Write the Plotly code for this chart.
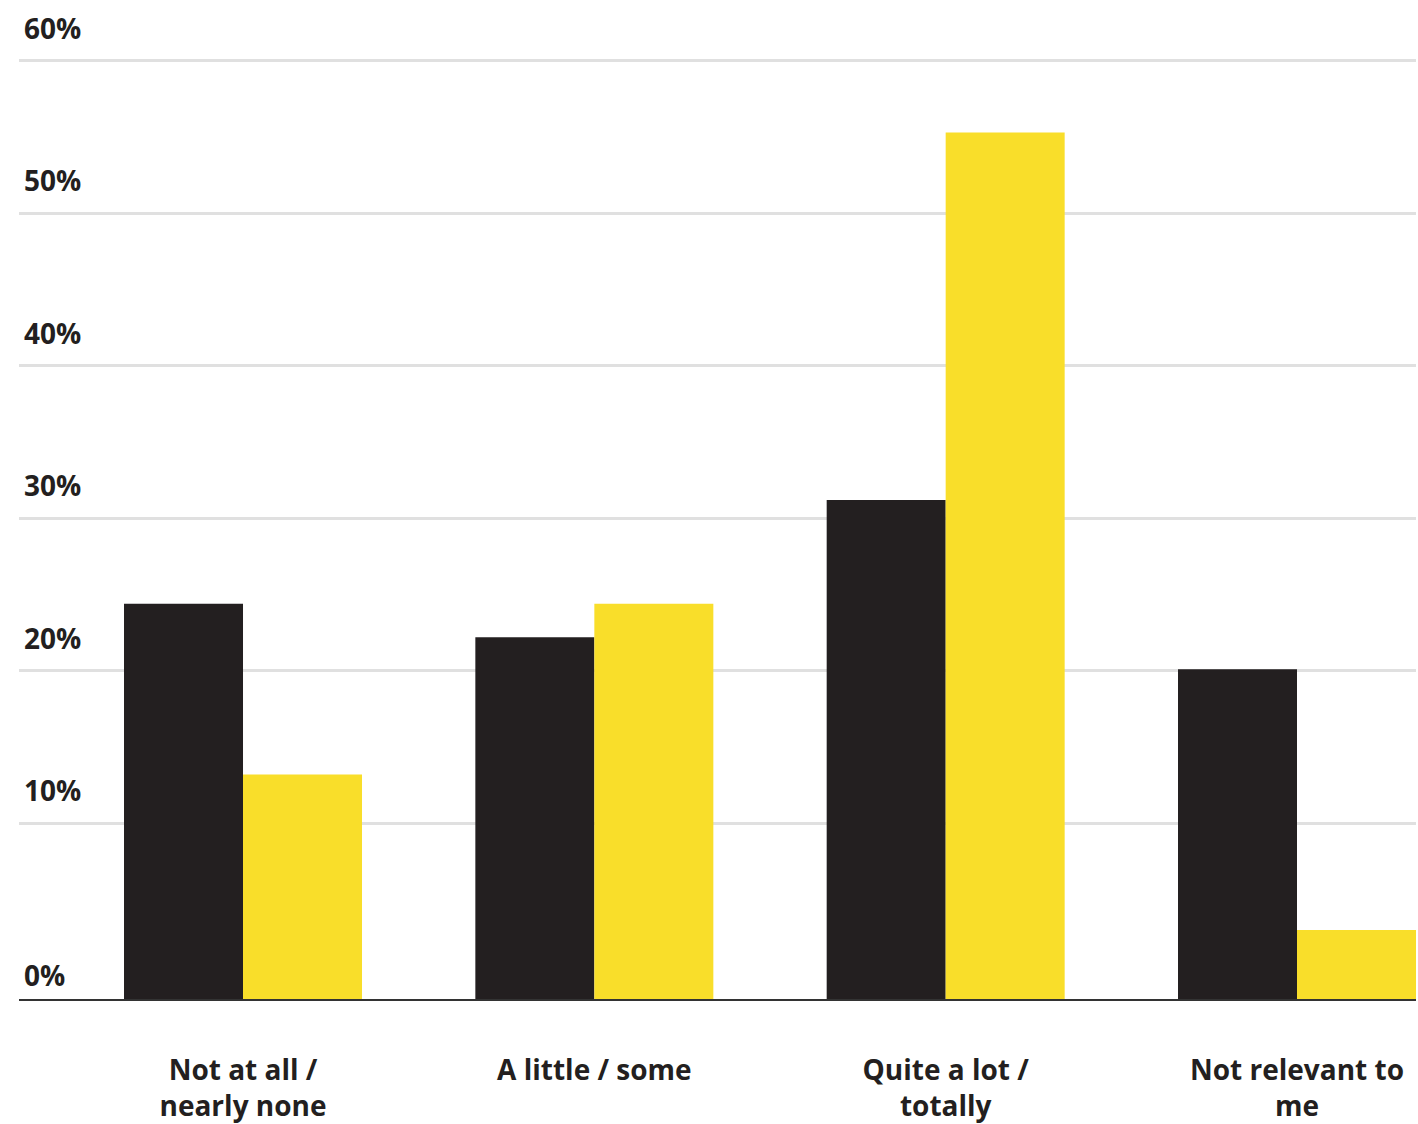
import plotly.graph_objects as go

# Response categories (two-line labels) and the two series, in percent
categories = ["Not at all /<br>nearly none", "A little / some", "Quite a lot /<br>totally", "Not relevant to<br>me"]
series_dark = [24.4, 22.2, 31.2, 20.1]
series_yellow = [13.2, 24.4, 55.3, 3.0]
tick_values = [0, 10, 20, 30, 40, 50, 60]
tick_labels = ["0%", "10%", "20%", "30%", "40%", "50%", "60%"]

DARK = "#231F20"
YELLOW = "#F9DE2A"
GRID = "#E0E0E0"
FONT = "Open Sans"

# Bars rise from the baseline drawn slightly below the zero value
Y_FLOOR = -1.52
Y_TOP = 63.99

fig = go.Figure()
fig.add_trace(go.Bar(
    x=categories, y=[v - Y_FLOOR for v in series_dark], base=Y_FLOOR,
    marker=dict(color=DARK, line=dict(width=0)), hoverinfo="skip", name="A",
))
fig.add_trace(go.Bar(
    x=categories, y=[v - Y_FLOOR for v in series_yellow], base=Y_FLOOR,
    marker=dict(color=YELLOW, line=dict(width=0)), hoverinfo="skip", name="B",
))

# Percentage labels sit just above their gridlines, at the left edge
for val, txt in zip(tick_values, tick_labels):
    if val == 0:
        ann = dict(yref="paper", y=0, yshift=24)
    else:
        ann = dict(yref="y", y=val, yshift=33)
    fig.add_annotation(
        xref="paper", x=0, xanchor="left", xshift=3, yanchor="middle",
        text=txt, showarrow=False,
        font=dict(family=FONT, size=28, color=DARK, weight=700),
        **ann,
    )

fig.update_layout(
    width=1418, height=1124,
    margin=dict(l=19, r=2, t=0, b=121),
    paper_bgcolor="white", plot_bgcolor="white",
    barmode="group", bargap=0.3226, bargroupgap=0,
    showlegend=False,
    font=dict(family=FONT, color=DARK),
)
fig.update_xaxes(
    type="category", range=[-0.6376, 3.3387],
    showgrid=False, zeroline=False,
    showline=True, linecolor="#333333", linewidth=2,
    ticks="", ticklabelstandoff=45,
    tickfont=dict(family=FONT, size=28, color=DARK, weight=700),
)
fig.update_yaxes(
    range=[Y_FLOOR, Y_TOP],
    tickvals=tick_values[1:], showticklabels=False,
    showgrid=True, gridcolor=GRID, gridwidth=3,
    zeroline=False, showline=False,
)

fig.write_html("out.html")
